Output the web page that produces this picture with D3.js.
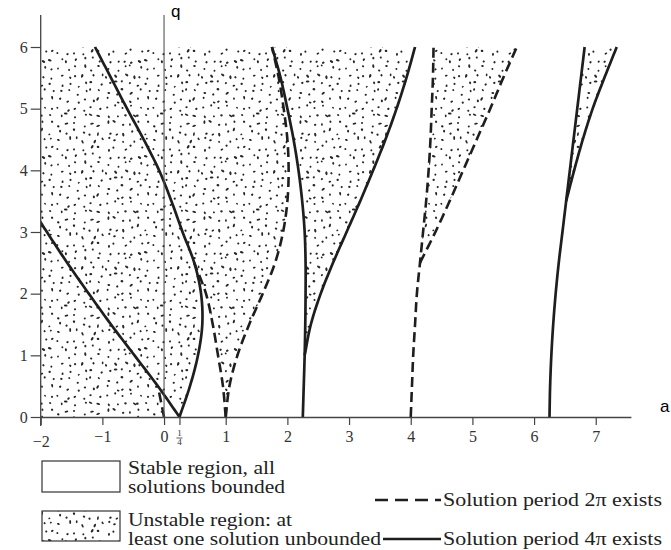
<!DOCTYPE html>
<html><head><meta charset="utf-8">
<script src="https://cdn.jsdelivr.net/npm/d3@7"></script>
<style>body{margin:0;background:#fff}svg{display:block}</style>
</head><body>
<svg id="c" width="671" height="550"></svg>
<script>
// ---- data: transition curves a = f(q) ----
const qGrid = [0, 0.5, 1, 1.5, 2, 2.5, 3, 3.5, 4, 4.5, 5, 5.5, 6];
// solution period 2π (dashed)
const a0 = [0, -0.1, null, null, null, null, null, null, null, null, null, null, null];
const b2 = [1.0, 0.955, 0.875, 0.79, 0.68, 0.49, null, null, null, null, null, null, null];
const a2 = [1.0, 1.06, 1.19, 1.38, 1.6, 1.8, 1.93, 2.0, 2.02, 2.0, 1.94, 1.86, 1.75];
const b4 = [4.0, 4.02, 4.04, 4.07, 4.1, 4.15, 4.2, 4.25, 4.29, 4.32, 4.34, 4.36, 4.37];
const a4 = [null, null, null, null, null, 4.15, 4.4, 4.63, 4.85, 5.07, 5.29, 5.5, 5.72];
// solution period 4π (solid)
const b1 = [0.25, -0.1, -0.48, -0.86, -1.22, -1.57, -1.9, -2.22, null, null, null, null, null];
const a1 = [0.25, 0.42, 0.55, 0.62, 0.6, 0.49, 0.3, 0.12, -0.08, -0.33, -0.6, -0.86, -1.12];
const b3 = [2.25, 2.265, 2.28, 2.29, 2.295, 2.295, 2.28, 2.24, 2.18, 2.1, 2.0, 1.89, 1.75];
const a3 = [null, null, 2.28, 2.38, 2.54, 2.74, 2.96, 3.18, 3.39, 3.59, 3.77, 3.93, 4.07];
const b5 = [6.25, 6.26, 6.28, 6.31, 6.35, 6.4, 6.46, 6.52, 6.58, 6.64, 6.7, 6.76, 6.82];
const a5 = [null, null, null, null, null, null, null, 6.52, 6.65, 6.79, 6.95, 7.14, 7.34];
// axes & legend texts
const xTicks = [-2, -1, 0, 0.25, 1, 2, 3, 4, 5, 6, 7];
const xTickLabels = ["\u22122", "\u22121", "0", "", "1", "2", "3", "4", "5", "6", "7"];
const yTicks = [0, 1, 2, 3, 4, 5, 6];
const legendLeft = [["Stable region, all", "solutions bounded"], ["Unstable region: at", "least one solution unbounded"]];
const legendRight = ["Solution period 2\u03c0 exists", "Solution period 4\u03c0 exists"];

const svg = d3.select('#c');
const x = d3.scaleLinear().domain([-2, 7.57]).range([40.7, 630.9]);
const y = d3.scaleLinear().domain([0, 6]).range([417, 47]);
const ink = '#1e1e1e';

// stipple texture (decoration only, deterministic jittered grid)
const defs = svg.append('defs');
const T = 96, cell = 8;
const pat = defs.append('pattern').attr('id', 'stip').attr('patternUnits', 'userSpaceOnUse')
  .attr('width', T).attr('height', T);
let seed = 20231;
const rnd = () => { seed = (seed * 1664525 + 1013904223) >>> 0; return seed / 4294967296; };
for (let gx = 0; gx < T / cell; gx++) for (let gy = 0; gy < T / cell; gy++) {
  const cx = gx * cell + 1.2 + rnd() * (cell - 2.4), cy = gy * cell + 1.2 + rnd() * (cell - 2.4);
  const long = rnd() < 0.25;
  pat.append('ellipse').attr('cx', cx.toFixed(2)).attr('cy', cy.toFixed(2))
    .attr('rx', (long ? 1.9 : 1.0 + rnd() * 0.45).toFixed(2)).attr('ry', (0.85 + rnd() * 0.3).toFixed(2))
    .attr('transform', `rotate(${(rnd() * 180).toFixed(1)} ${cx.toFixed(2)} ${cy.toFixed(2)})`)
    .attr('fill', '#262626');
}
defs.append('clipPath').attr('id', 'plot').append('rect')
  .attr('x', x(-2)).attr('y', y(6) - 4).attr('width', x(7.57) - x(-2)).attr('height', y(0) - y(6) + 4);

// Catmull-Rom interpolation along the q grid
function validIdx(vals) { return vals.map((v, i) => v == null ? -1 : i).filter(i => i >= 0); }
function aAt(vals, q) {
  const idx = validIdx(vals);
  const i0 = idx[0], i1 = idx[idx.length - 1];
  let i = Math.floor(q / 0.5 + 1e-9);
  i = Math.max(i0, Math.min(i, i1 - 1));
  const t = (q - qGrid[i]) / 0.5;
  const p1 = vals[i], p2 = vals[i + 1];
  const p0 = (i - 1 >= i0) ? vals[i - 1] : 2 * p1 - p2;
  const p3 = (i + 2 <= i1) ? vals[i + 2] : 2 * p2 - p1;
  return 0.5 * (2 * p1 + (-p0 + p2) * t + (2 * p0 - 5 * p1 + 4 * p2 - p3) * t * t + (-p0 + 3 * p1 - 3 * p2 + p3) * t * t * t);
}
function samples(vals, q0, q1) {
  const out = [];
  const n = Math.max(2, Math.round((q1 - q0) / 0.04));
  for (let k = 0; k <= n; k++) { const q = q0 + (q1 - q0) * k / n; out.push([aAt(vals, q), q]); }
  return out;
}
function range(vals) { const idx = validIdx(vals); return [qGrid[idx[0]], qGrid[idx[idx.length - 1]]]; }
const line = d3.line().x(d => x(d[0])).y(d => y(d[1]));
const poly = pts => line(pts) + 'Z';

const g = svg.append('g').attr('clip-path', 'url(#plot)');
// shaded (unstable) and white (stable) regions
const S1 = [[-2, 0], [2.25, 0], ...samples(b3, 0, 1), ...samples(a3, 1, 6), [-2, 6]];
const S2 = [...samples(a4, 2.5, 6), ...samples(b4, 2.5, 6).reverse()];
const S3 = [...samples(a5, 3.5, 6), ...samples(b5, 3.5, 6).reverse()];
const W0 = [...samples(a0, 0, 0.5), ...samples(b1, 0, 0.5).reverse()];
const W1 = [...samples(a1, 0, 2.5), ...samples(b2, 0, 2.5).reverse()];
const W2 = [...samples(a2, 0, 6), ...samples(b3, 0, 6).reverse()];
[S1, S2, S3].forEach(p => g.append('path').attr('d', poly(p)).attr('fill', 'url(#stip)'));
[W0, W1, W2].forEach(p => g.append('path').attr('d', poly(p)).attr('fill', '#fff'));

// axes lines
svg.append('line').attr('x1', x(-2)).attr('x2', x(-2)).attr('y1', 15).attr('y2', y(0) + 9).attr('stroke', '#444').attr('stroke-width', 1.3);
svg.append('line').attr('x1', x(0)).attr('x2', x(0)).attr('y1', 15).attr('y2', y(0)).attr('stroke', '#555').attr('stroke-width', 1.1);
const xa = svg.append('g').attr('transform', `translate(0,${y(0)})`)
  .call(d3.axisBottom(x).tickValues(xTicks).tickSize(8).tickSizeOuter(0)
    .tickFormat((d, i) => xTickLabels[i]));
xa.select('.domain').attr('stroke', '#444').attr('stroke-width', 1.3);
xa.selectAll('.tick line').attr('stroke', '#444').attr('stroke-width', 1.2);
xa.selectAll('.tick text').attr('font-family', 'Liberation Serif, serif').attr('font-size', 16)
  .attr('fill', '#333').attr('dy', (d) => d === -2 ? '1.2em' : '0.9em');
// 1/4 stacked fraction label
const fr = svg.append('g').attr('font-family', 'Liberation Serif, serif').attr('font-size', 9).attr('fill', '#333').attr('text-anchor', 'middle');
fr.append('text').attr('x', x(0.25)).attr('y', y(0) + 19).text('1');
fr.append('line').attr('x1', x(0.25) - 3).attr('x2', x(0.25) + 3).attr('y1', y(0) + 21).attr('y2', y(0) + 21).attr('stroke', '#333').attr('stroke-width', 0.8);
fr.append('text').attr('x', x(0.25)).attr('y', y(0) + 28).text('4');

const ya = svg.append('g').attr('transform', `translate(${x(-2)},0)`)
  .call(d3.axisLeft(y).tickValues(yTicks).tickSize(10).tickSizeOuter(0).tickFormat(d3.format('d')));
ya.select('.domain').remove();
ya.selectAll('.tick line').attr('stroke', '#444').attr('stroke-width', 1.2);
ya.selectAll('.tick text').attr('font-family', 'Liberation Serif, serif').attr('font-size', 16).attr('fill', '#333').attr('x', -13);

svg.append('text').attr('x', 171).attr('y', 17).attr('font-family', 'Liberation Sans, Arial, sans-serif').attr('font-size', 17).attr('fill', '#000').text('q');
svg.append('text').attr('x', 660).attr('y', 412).attr('font-family', 'Liberation Sans, Arial, sans-serif').attr('font-size', 17).attr('fill', '#000').text('a');

// curves
const dashed = [a0, b2, a2, b4, a4];
const solid = [b1, a1, b3, a3, b5, a5];
dashed.forEach(c => { const r = range(c); g.append('path').attr('d', line(samples(c, r[0], r[1])))
  .attr('fill', 'none').attr('stroke', ink).attr('stroke-width', 2.6).attr('stroke-dasharray', '10,5'); });
solid.forEach(c => { const r = range(c); g.append('path').attr('d', line(samples(c, r[0], r[1])))
  .attr('fill', 'none').attr('stroke', ink).attr('stroke-width', 2.7); });

// legend
const lg = svg.append('g').attr('font-family', 'Liberation Serif, Times New Roman, serif').attr('font-size', 19).attr('fill', '#222');
lg.append('rect').attr('x', 42).attr('y', 461).attr('width', 78).attr('height', 31).attr('fill', '#fff').attr('stroke', '#333').attr('stroke-width', 1.2);
lg.append('rect').attr('x', 42).attr('y', 511).attr('width', 78).attr('height', 30).attr('fill', 'url(#stip)').attr('stroke', '#333').attr('stroke-width', 1.2);
const leftLen = [[147, 157], [164, 253]];
legendLeft.forEach((lines, k) => lines.forEach((t, j) =>
  lg.append('text').attr('x', 128).attr('y', 474 + k * 52 + j * 19)
    .attr('textLength', leftLen[k][j]).attr('lengthAdjust', 'spacingAndGlyphs').text(t)));
lg.append('line').attr('x1', 375).attr('x2', 441).attr('y1', 500).attr('y2', 500).attr('stroke', ink).attr('stroke-width', 2.6).attr('stroke-dasharray', '13,7');
lg.append('line').attr('x1', 383).attr('x2', 441).attr('y1', 539).attr('y2', 539).attr('stroke', ink).attr('stroke-width', 2.6);
legendRight.forEach((t, k) => lg.append('text').attr('x', 443).attr('y', 506 + k * 39)
  .attr('textLength', 219).attr('lengthAdjust', 'spacingAndGlyphs').text(t));
</script>
</body></html>
